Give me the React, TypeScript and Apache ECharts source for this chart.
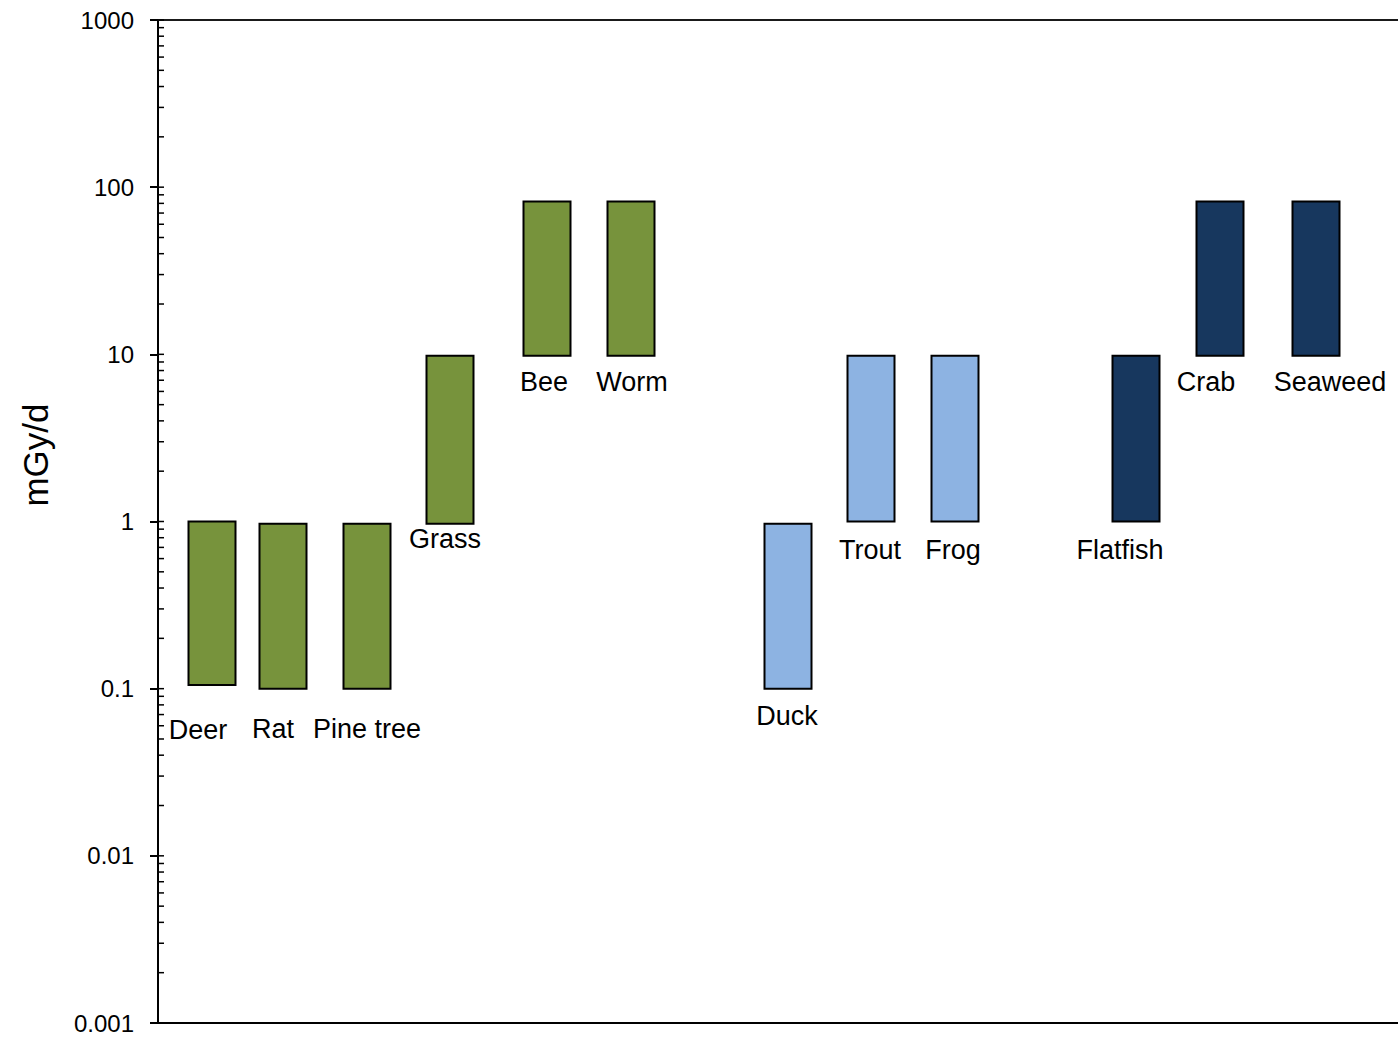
import React, { useEffect, useRef } from "react";
import * as echarts from "echarts";

// Species and their dose-rate bands (mGy/d), low and high ends of each bar
const species = ["Deer", "Rat", "Pine tree", "Grass", "Bee", "Worm", "Duck", "Trout", "Frog", "Flatfish", "Crab", "Seaweed"];
const xPosition = [5.4, 12.5, 20.9, 29.2, 38.9, 47.3, 63.0, 71.3, 79.7, 97.8, 106.2, 115.8];
const lowValues = [0.105, 0.1, 0.1, 0.97, 9.8, 9.8, 0.1, 1.0, 1.0, 1.0, 9.8, 9.8];
const highValues = [1.0, 0.97, 0.97, 9.8, 82, 82, 0.97, 9.8, 9.8, 9.8, 82, 82];
const groups = ["land", "land", "land", "land", "land", "land", "fresh", "fresh", "fresh", "marine", "marine", "marine"];

const yTickLabels = ["0.001", "0.01", "0.1", "1", "10", "100", "1000"];
const decades = [0.001, 0.01, 0.1, 1, 10, 100];
const minorMultipliers = [1, 2, 3, 4, 5, 6, 7, 8, 9];

const groupColors: Record<string, string> = {
  land: "#77933C",
  fresh: "#8DB3E2",
  marine: "#17375E",
};

// Label placement relative to the bottom-centre of each bar, in pixels
const labelOffsets: [number, number][] = [
  [-14, 45], [-10, 40], [0, 40], [-5, 15], [-3, 26], [1, 26],
  [-1, 27], [-1, 28], [-2, 28], [-16, 28], [-14, 26], [14, 26],
];

const FONT = '"Liberation Sans", Arial, Helvetica, sans-serif';
const BAR_WIDTH = 47;

export default function App() {
  const ref = useRef<HTMLDivElement>(null);

  useEffect(() => {
    if (!ref.current) return;
    const chart = echarts.init(ref.current, undefined, { renderer: "svg" });

    const barData = species.map((name, i) => ({
      name,
      value: [xPosition[i], lowValues[i], highValues[i], i],
    }));

    const insideTicks: number[] = [];
    decades.forEach((d) => minorMultipliers.forEach((m) => insideTicks.push(d * m)));
    insideTicks.push(1000);

    chart.setOption({
      animation: false,
      backgroundColor: "#ffffff",
      grid: { left: 158, right: 0, top: 20, bottom: 17, containLabel: false },
      xAxis: [
        {
          type: "value",
          min: 0,
          max: 124,
          position: "bottom",
          axisLine: { show: true, onZero: false, lineStyle: { color: "#000", width: 2 } },
          axisTick: { show: false },
          axisLabel: { show: false },
          splitLine: { show: false },
        },
        {
          type: "value",
          min: 0,
          max: 124,
          position: "top",
          axisLine: { show: true, onZero: false, lineStyle: { color: "#1a1a1a", width: 2 } },
          axisTick: { show: false },
          axisLabel: { show: false },
          splitLine: { show: false },
        },
      ],
      yAxis: {
        type: "log",
        logBase: 10,
        min: 0.001,
        max: 1000,
        axisLine: { show: true, lineStyle: { color: "#000", width: 2 } },
        axisTick: { show: true, inside: false, length: 8, lineStyle: { color: "#000", width: 2 } },
        axisLabel: {
          margin: 24,
          fontFamily: FONT,
          fontSize: 24,
          color: "#000",
          formatter: (v: number) => yTickLabels[Math.round(Math.log10(v)) + 3],
        },
        splitLine: { show: false },
      },
      graphic: [
        {
          type: "text",
          x: 35,
          y: 455,
          rotation: Math.PI / 2,
          style: {
            text: "mGy/d",
            fontFamily: FONT,
            fontSize: 35,
            fill: "#000",
            align: "center",
            verticalAlign: "middle",
          },
        },
      ],
      series: [
        {
          type: "custom",
          clip: false,
          data: insideTicks.map((v) => [0, v]),
          renderItem: (params: any, api: any) => {
            const p = api.coord([0, api.value(1)]);
            return {
              type: "line",
              shape: { x1: p[0], y1: p[1], x2: p[0] + 6, y2: p[1] },
              style: { stroke: "#000", lineWidth: 1.5 },
            };
          },
          silent: true,
          z: 3,
        },
        {
          type: "custom",
          clip: false,
          data: barData,
          renderItem: (params: any, api: any) => {
            const idx = api.value(3);
            const top = api.coord([api.value(0), api.value(2)]);
            const bottom = api.coord([api.value(0), api.value(1)]);
            const [dx, dy] = labelOffsets[idx];
            return {
              type: "group",
              children: [
                {
                  type: "rect",
                  shape: {
                    x: top[0] - BAR_WIDTH / 2,
                    y: top[1],
                    width: BAR_WIDTH,
                    height: bottom[1] - top[1],
                  },
                  style: { fill: groupColors[groups[idx]], stroke: "#000", lineWidth: 2 },
                },
                {
                  type: "text",
                  x: top[0] + dx,
                  y: bottom[1] + dy,
                  style: {
                    text: species[idx],
                    fontFamily: FONT,
                    fontSize: 27,
                    fill: "#000",
                    align: "center",
                    verticalAlign: "middle",
                  },
                },
              ],
            };
          },
          z: 2,
        },
      ],
    });

    return () => chart.dispose();
  }, []);

  return (
    <div
      ref={ref}
      style={{ position: "absolute", left: 0, top: 0, width: 1398, height: 1040, background: "#fff" }}
    />
  );
}
